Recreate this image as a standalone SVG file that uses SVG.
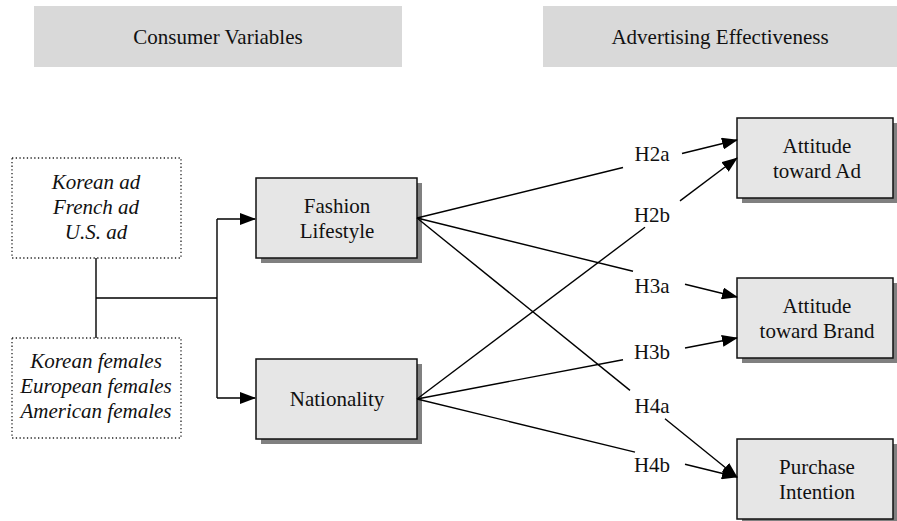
<svg xmlns="http://www.w3.org/2000/svg" width="897" height="521" viewBox="0 0 897 521" font-family="'Liberation Serif', 'DejaVu Serif', serif">
<style>
text{font-family:'Liberation Serif','DejaVu Serif',serif;font-size:21px;fill:#111;text-anchor:middle}
.it{font-style:italic}
.hdr{fill:#d9d9d9}
.box{fill:#e6e6e6;stroke:#111;stroke-width:1.5}
.sh{fill:#808080}
.dot{fill:#fff;stroke:#222;stroke-width:1.3;stroke-dasharray:1.3 2.4}
.ln{fill:none;stroke:#000;stroke-width:1.4}
.ar{marker-end:url(#ah)}
</style>
<defs>
<marker id="ah" markerUnits="userSpaceOnUse" markerWidth="16" markerHeight="12" refX="15" refY="6" orient="auto">
<path d="M0,0 L16,6 L0,12 z" fill="#000"/>
</marker>
</defs>
<g id="header-consumer">
<rect class="hdr" x="34" y="6" width="368" height="61"/>
<text x="218" y="44">Consumer Variables</text>
</g>
<g id="header-advertising">
<rect class="hdr" x="543" y="6" width="354" height="61"/>
<text x="720" y="44">Advertising Effectiveness</text>
</g>
<g id="ads">
<rect class="dot" x="12" y="158" width="169" height="100"/>
<text class="it" x="96" y="189">Korean ad</text>
<text class="it" x="96" y="214">French ad</text>
<text class="it" x="96" y="239">U.S. ad</text>
</g>
<g id="females">
<rect class="dot" x="12" y="338" width="169" height="100"/>
<text class="it" x="96" y="368">Korean females</text>
<text class="it" x="96" y="393">European females</text>
<text class="it" x="96" y="418">American females</text>
</g>
<g id="fashion">
<rect class="sh" x="261" y="183" width="161" height="80"/>
<rect class="box" x="256" y="178" width="161" height="80"/>
<text x="337" y="213">Fashion</text>
<text x="337" y="238">Lifestyle</text>
</g>
<g id="nationality">
<rect class="sh" x="261" y="364" width="161" height="80"/>
<rect class="box" x="256" y="359" width="161" height="80"/>
<text x="337" y="406">Nationality</text>
</g>
<g id="att-ad">
<rect class="sh" x="742" y="123" width="156" height="80"/>
<rect class="box" x="737" y="118" width="156" height="80"/>
<text x="817" y="153">Attitude</text>
<text x="817" y="178">toward Ad</text>
</g>
<g id="att-brand">
<rect class="sh" x="742" y="283" width="156" height="80"/>
<rect class="box" x="737" y="278" width="156" height="80"/>
<text x="817" y="313">Attitude</text>
<text x="817" y="338">toward Brand</text>
</g>
<g id="purchase">
<rect class="sh" x="742" y="444" width="156" height="80"/>
<rect class="box" x="737" y="439" width="156" height="80"/>
<text x="817" y="474">Purchase</text>
<text x="817" y="499">Intention</text>
</g>
<g id="connectors">
<path class="ln" d="M96,258 V338 M96,298 H217 M217,219 V398"/>
<path class="ln ar" d="M217,219 H255"/>
<path class="ln ar" d="M217,398 H255"/>
<path class="ln" d="M417,218 L623,167.5"/>
<path class="ln ar" d="M682,153.5 L737,140"/>
<path class="ln" d="M417,218 L633,271.3"/>
<path class="ln ar" d="M685,284.2 L737,297"/>
<path class="ln" d="M417,218 L630,390.4"/>
<path class="ln ar" d="M665,418.7 L737,477"/>
<path class="ln" d="M417,399 L645,227.3"/>
<path class="ln ar" d="M680,200.9 L737,158"/>
<path class="ln" d="M417,399 L623,359.7"/>
<path class="ln ar" d="M685,348 L737,338"/>
<path class="ln" d="M417,399 L635,452.1"/>
<path class="ln ar" d="M685,464.3 L737,477"/>
</g>
<g id="labels">
<text x="652" y="161">H2a</text>
<text x="652" y="222">H2b</text>
<text x="652" y="293">H3a</text>
<text x="652" y="359">H3b</text>
<text x="652" y="413">H4a</text>
<text x="652" y="472">H4b</text>
</g>
</svg>
